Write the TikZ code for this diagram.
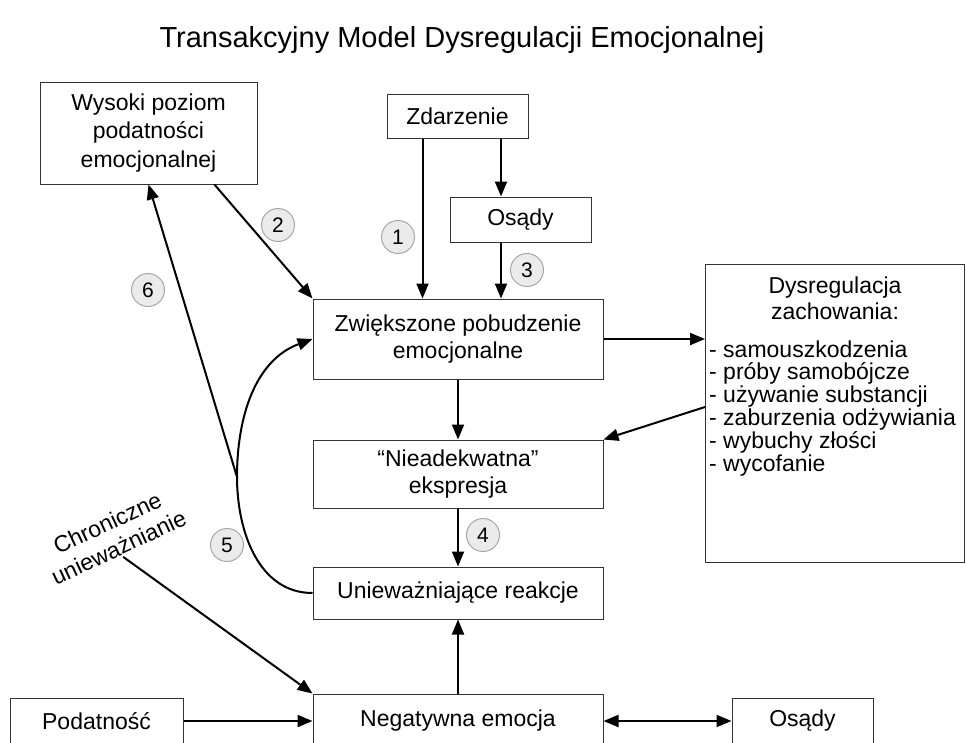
\documentclass[tikz,border=0pt]{standalone}
\usepackage{fontspec}
\setmainfont{Liberation Sans}
\usetikzlibrary{arrows.meta,calc}

\def\boxfont{\fontsize{23}{27}\selectfont}

\begin{document}
\begin{tikzpicture}[x=1pt,y=-1pt,font=\boxfont,>={Triangle[length=15pt,width=12pt]}]
    \tikzstyle{box}=[draw=black!80,line width=1pt,align=center,inner sep=2pt]
    \tikzstyle{num}=[circle,draw=black!35,fill=black!8,line width=1pt,minimum size=33pt,inner sep=0pt,font=\fontsize{21}{21}\selectfont]
    \tikzstyle{arr}=[->,line width=2pt]

    \useasboundingbox (0,0) rectangle (966,742);
    \clip (0,0) rectangle (966,742);

    \node[anchor=base,font=\fontsize{29}{29}\selectfont] (title) at (462,47) {Transakcyjny Model Dysregulacji Emocjonalnej};

    \node[box,minimum width=217,minimum height=102,font=\fontsize{23}{28.5}\selectfont] (wys) at (148.5,133) {Wysoki poziom\\podatności\\emocjonalnej};
    \node[box,minimum width=141,minimum height=44] (zdarz) at (457.5,116) {Zdarzenie};
    \node[box,minimum width=141,minimum height=45] (osady) at (520.5,219.5) {Osądy};
    \node[box,minimum width=290,minimum height=80] (zwie) at (458,339) {Zwiększone pobudzenie\\emocjonalne};
    \node[box,minimum width=290,minimum height=68] (nie) at (458,474) {“Nieadekwatna”\\ekspresja};
    \node[box,minimum width=290,minimum height=52] (ureak) at (458,593) {Unieważniające reakcje};
    \node[box,minimum width=290,minimum height=54] (neg) at (458,721) {Negatywna emocja};
    \node[box,minimum width=173,minimum height=46] (podat) at (96.5,721) {Podatność};
    \node[box,minimum width=141,minimum height=46] (osady2) at (802.5,721) {Osądy};

    % box with the list of behaviours
    \node[box,minimum width=259,minimum height=298] (dys) at (835,413) {};
    \node[anchor=north,align=center,inner sep=0pt,font=\fontsize{23}{26}\selectfont] (dyshead) at (835,277) {Dysregulacja\\zachowania:};
    \foreach \entry [count=\i] in {samouszkodzenia,próby samobójcze,używanie substancji,zaburzenia odżywiania,wybuchy złości,wycofanie}
        \node[anchor=base west,inner sep=0pt] (item\i) at (709,{357+22.8*(\i-1)}) {- \entry};

    \node[rotate=25,align=center,inner sep=2pt] (chron) at (113,535) {Chroniczne\\unieważnianie};

    \draw[arr] ([xshift=-35pt]zdarz.south) -- ([xshift=-35pt]zdarz.south |- zwie.north);
    \draw[arr] ([xshift=43.5pt]zdarz.south) -- ([xshift=43.5pt]zdarz.south |- osady.north);
    \draw[arr] ([xshift=-19.5pt]osady.south) -- ([xshift=-19.5pt]osady.south |- zwie.north);
    \draw[arr] (wys.-38) -- (zwie.north west);
    \draw[arr] (zwie.east) -- (zwie.east -| dys.west);
    \draw[arr] ([yshift=6pt]dys.west) -- (nie.north east);
    \draw[arr] (zwie.south) -- (nie.north);
    \draw[arr] (nie.south) -- (ureak.north);
    \draw[arr] (neg.north) -- (ureak.south);
    \draw[arr] (podat.east) -- (podat.east -| neg.west);
    \draw[arr,<->] (neg.east) -- (osady2.west);
    \draw[arr] (chron.south) -- (neg.north west);

    % feedback loop
    \coordinate (bend) at (237,477);
    \draw[arr] (ureak.west) .. controls +(-54,0) and +(0,54) .. (bend) .. controls +(0,-61) and +(-57,21) .. (zwie.west);
    \draw[arr] (bend) -- (wys.south);

    \node[num] (n1) at (398,237) {1};
    \node[num] (n2) at (278,225) {2};
    \node[num] (n3) at (527,270) {3};
    \node[num] (n4) at (483,535) {4};
    \node[num] (n5) at (227,545) {5};
    \node[num] (n6) at (148,290) {6};
\end{tikzpicture}
\end{document}
